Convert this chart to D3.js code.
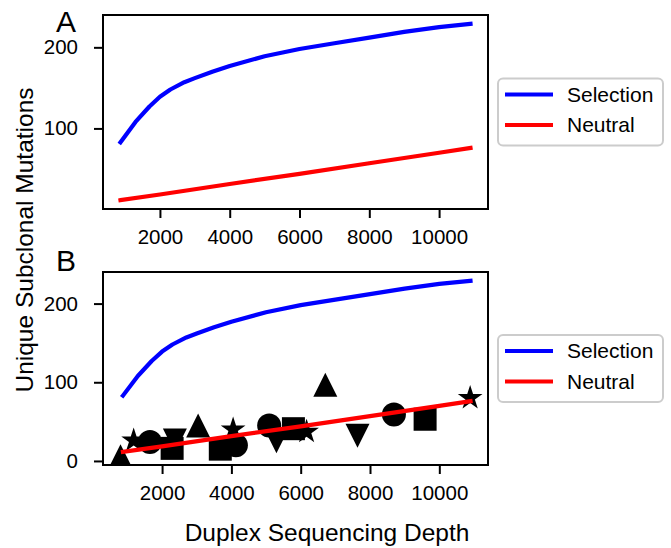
<!DOCTYPE html>
<html lang="en">
<head>
<meta charset="UTF-8">
<title>Unique subclonal mutations vs duplex sequencing depth</title>
<script src="https://cdn.jsdelivr.net/npm/d3@7"></script>
<style>
  body { margin: 0; background: #fff; }
  svg text { font-family: "Liberation Sans", Arial, sans-serif; fill: #000; }
</style>
</head>
<body>
<div id="chart"></div>
<script>
// model curve with selection
var selDepth = [870, 1300, 1700, 2000, 2300, 2700, 3000, 3500, 4000, 5000, 6000, 7000, 8000, 9000, 10000, 10900];
var selMuts  = [83, 108, 127, 139, 148, 157, 162, 170, 177, 189, 198, 205, 212, 219, 225, 229];

// neutral model
var neuDepth = [870, 2000, 4000, 6000, 8000, 10000, 10900];
var neuMuts  = [11.5, 18.5, 31.5, 44, 57, 70, 76];

// observed samples, only in panel B
var obsDepth  = [800, 1180, 1650, 2370, 2290, 3040, 3680, 4050, 4130, 5090, 5300, 5790, 6170, 6710, 7640, 8690, 9590, 10890];
var obsMuts   = [6, 26, 24, 26, 16, 45, 15, 40, 20, 45, 25, 41, 37, 97, 32, 59, 53, 80];
var obsMarker = ['^', '*', 'o', 'v', 's', '^', 's', '*', 'o', 'o', 'v', 's', '*', '^', 'v', 'o', 's', '*'];

var xTicks  = [2000, 4000, 6000, 8000, 10000];
var yTicksA = [100, 200];
var yTicksB = [0, 100, 200];

var width = 671, height = 548;
var plotLeft = 103, plotRight = 488;
var panels = [
    {id: 'A', top: 15, bottom: 209, letterY: 32, yTicks: yTicksA, scatter: false},
    {id: 'B', top: 272, bottom: 465, letterY: 271, yTicks: yTicksB, scatter: true}
];

var series = [
    {name: 'Selection', color: '#0000ff', depth: selDepth, muts: selMuts},
    {name: 'Neutral', color: '#ff0000', depth: neuDepth, muts: neuMuts}
];

// matplotlib-like marker shapes, size = radius in px
var shapes = {
    'o': {draw: function (c, r) { c.moveTo(r, 0); c.arc(0, 0, r, 0, 2 * Math.PI); }},
    's': {draw: function (c, r) { c.rect(-r, -r, 2 * r, 2 * r); }},
    '^': {draw: function (c, r) { c.moveTo(0, -r); c.lineTo(r, r); c.lineTo(-r, r); c.closePath(); }},
    'v': {draw: function (c, r) { c.moveTo(0, r); c.lineTo(r, -r); c.lineTo(-r, -r); c.closePath(); }},
    '*': {draw: function (c, r) {
        var inner = r * 0.381966;
        for (var i = 0; i < 10; i++) {
            var rr = i % 2 ? inner : r, a = -Math.PI / 2 + i * Math.PI / 5;
            if (i === 0) c.moveTo(rr * Math.cos(a), rr * Math.sin(a));
            else c.lineTo(rr * Math.cos(a), rr * Math.sin(a));
        }
        c.closePath();
    }}
};
var shapeSize = {'o': 12, 's': 11.5, '^': 12, 'v': 12, '*': 13};

// padded extent, like matplotlib autoscale margins
function padded(values) {
    var ext = d3.extent(values), pad = (ext[1] - ext[0]) * 0.05;
    return [ext[0] - pad, ext[1] + pad];
}

var svg = d3.select('#chart').append('svg')
    .attr('width', width)
    .attr('height', height);

panels.forEach(function (p) {
    var xs = selDepth.concat(neuDepth), ys = selMuts.concat(neuMuts);
    if (p.scatter) { xs = xs.concat(obsDepth); ys = ys.concat(obsMuts); }

    var x = d3.scaleLinear().domain(padded(xs)).range([plotLeft, plotRight]);
    var y = d3.scaleLinear().domain(padded(ys)).range([p.bottom, p.top]);

    var g = svg.append('g');

    g.append('clipPath').attr('id', 'clip' + p.id)
        .append('rect')
        .attr('x', plotLeft).attr('y', p.top)
        .attr('width', plotRight - plotLeft).attr('height', p.bottom - p.top);

    var plot = g.append('g').attr('clip-path', 'url(#clip' + p.id + ')');

    if (p.scatter) {
        plot.selectAll('path.obs')
            .data(obsDepth.map(function (d, i) { return {x: d, y: obsMuts[i], m: obsMarker[i]}; }))
            .join('path')
            .attr('class', 'obs')
            .attr('transform', function (d) { return 'translate(' + x(d.x) + ',' + y(d.y) + ')'; })
            .attr('d', function (d) { return d3.symbol().type(shapes[d.m]).size(shapeSize[d.m])(); })
            .attr('fill', '#000');
    }

    series.forEach(function (s) {
        var line = d3.line()
            .x(function (d) { return x(d[0]); })
            .y(function (d) { return y(d[1]); });
        plot.append('path')
            .datum(d3.zip(s.depth, s.muts))
            .attr('d', line)
            .attr('fill', 'none')
            .attr('stroke', s.color)
            .attr('stroke-width', 4.2)
            .attr('stroke-linejoin', 'round')
            .attr('stroke-linecap', 'square');
    });

    // axes
    var xAxis = g.append('g')
        .attr('transform', 'translate(0,' + p.bottom + ')')
        .call(d3.axisBottom(x).tickValues(xTicks).tickFormat(d3.format('d')).tickSize(9).tickPadding(6));
    var yAxis = g.append('g')
        .attr('transform', 'translate(' + plotLeft + ',0)')
        .call(d3.axisLeft(y).tickValues(p.yTicks).tickFormat(d3.format('d')).tickSize(9).tickPadding(14));

    [xAxis, yAxis].forEach(function (a) {
        a.select('.domain').remove();
        a.selectAll('line').attr('stroke', '#000').attr('stroke-width', 2);
        a.selectAll('text').attr('font-size', 20.5).attr('font-family', '"Liberation Sans", Arial, sans-serif');
    });
    xAxis.selectAll('text').attr('dy', '0.71em').attr('y', 20);
    yAxis.selectAll('text').attr('x', -25);

    g.append('rect')
        .attr('x', plotLeft).attr('y', p.top)
        .attr('width', plotRight - plotLeft).attr('height', p.bottom - p.top)
        .attr('fill', 'none')
        .attr('stroke', '#000')
        .attr('stroke-width', 2);

    // panel letter
    g.append('text')
        .attr('x', 66).attr('y', p.letterY)
        .attr('text-anchor', 'middle')
        .attr('font-size', 30)
        .text(p.id);

    // legend, centered on the panel height
    var legH = 67, legW = 165;
    var leg = g.append('g')
        .attr('transform', 'translate(' + (plotRight + 10) + ',' + ((p.top + p.bottom) / 2 - legH / 2) + ')');
    leg.append('rect')
        .attr('width', legW).attr('height', legH)
        .attr('rx', 5)
        .attr('fill', '#fff').attr('fill-opacity', 0.8)
        .attr('stroke', '#cccccc').attr('stroke-width', 2);
    series.forEach(function (s, i) {
        var ly = 16 + i * 30.5;
        leg.append('line')
            .attr('x1', 7).attr('x2', 55)
            .attr('y1', ly).attr('y2', ly)
            .attr('stroke', s.color).attr('stroke-width', 4.2);
        leg.append('text')
            .attr('x', 69).attr('y', ly + 7)
            .attr('font-size', 21)
            .text(s.name);
    });
});

svg.append('text')
    .attr('transform', 'translate(33,240) rotate(-90)')
    .attr('text-anchor', 'middle')
    .attr('font-size', 24.5)
    .text('Unique Subclonal Mutations');

svg.append('text')
    .attr('x', 327).attr('y', 541)
    .attr('text-anchor', 'middle')
    .attr('font-size', 24.5)
    .text('Duplex Sequencing Depth');
</script>
</body>
</html>
